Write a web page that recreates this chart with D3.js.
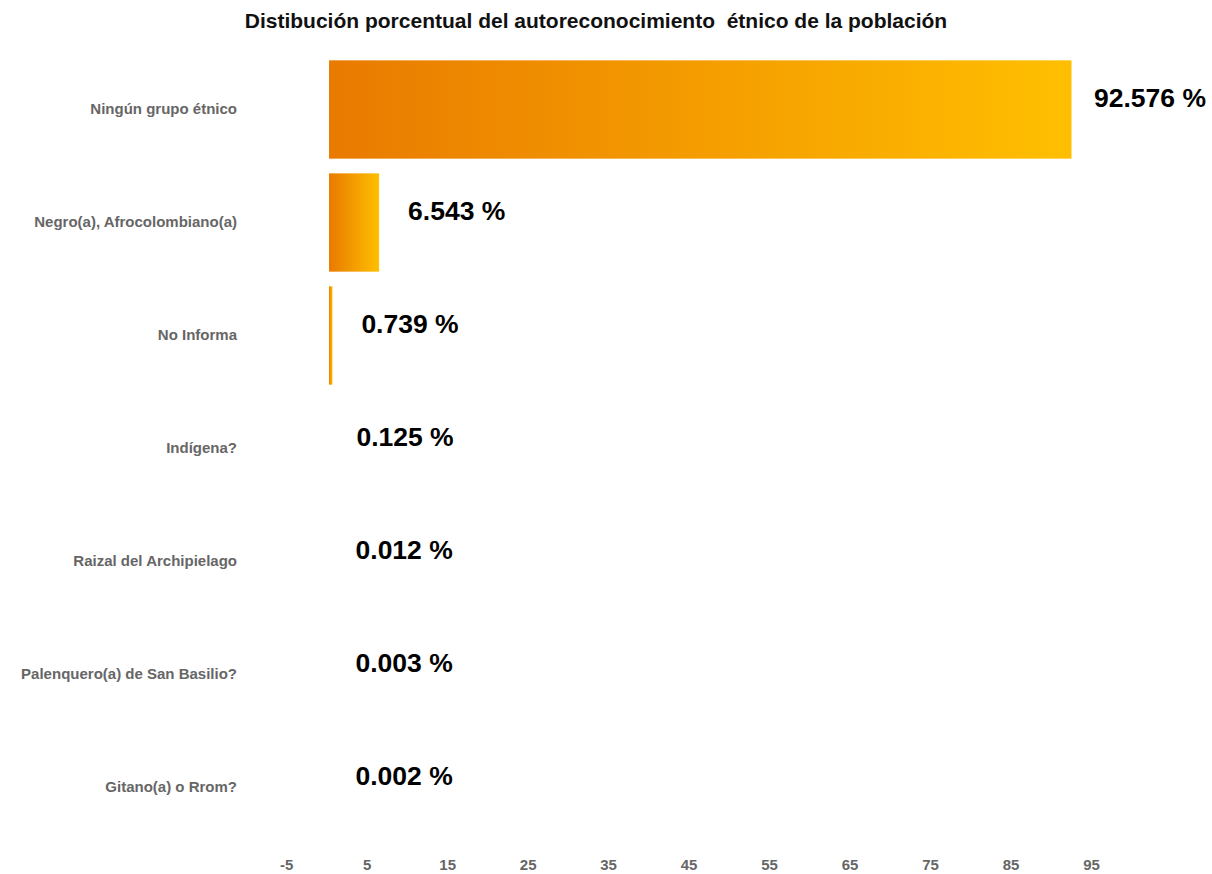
<!DOCTYPE html>
<html>
<head>
<meta charset="utf-8">
<script src="https://cdn.jsdelivr.net/npm/d3@7"></script>
<style>
  body { margin: 0; background: #fff; }
  svg text { font-family: "Liberation Sans", Arial, sans-serif; }
</style>
</head>
<body>
<svg id="chart" width="1212" height="874"></svg>
<script>
// data
const categories = ['Ningún grupo étnico', 'Negro(a), Afrocolombiano(a)', 'No Informa', 'Indígena?',
  'Raizal del Archipielago', 'Palenquero(a) de San Basilio?', 'Gitano(a) o Rrom?'];
const values = [92.576, 6.543, 0.739, 0.125, 0.012, 0.003, 0.002];
const tickValues = [-5, 5, 15, 25, 35, 45, 55, 65, 75, 85, 95];
const title = 'Distibución porcentual del autoreconocimiento  étnico de la población';

const svg = d3.select('#chart');
const barInset = 2.6; // bars start a little right of zero

// gradient used on every bar (per bar box)
const grad = svg.append('defs').append('linearGradient').attr('id', 'barfill')
  .attr('x1', '0%').attr('x2', '100%').attr('y1', '0%').attr('y2', '0%');
grad.append('stop').attr('offset', '0%').attr('stop-color', '#E97A00');
grad.append('stop').attr('offset', '100%').attr('stop-color', '#FFBF00');

const x = d3.scaleLinear().domain([-5, 95]).range([286.2, 1091]);
const y = d3.scaleBand().domain(categories).range([53, 844]).paddingInner(0.13).paddingOuter(0.065);

svg.append('text').attr('x', 596).attr('y', 28).attr('text-anchor', 'middle')
  .attr('xml:space', 'preserve').style('white-space', 'pre')
  .attr('font-size', 21).attr('font-weight', 'bold').attr('fill', '#111').text(title);

// bars
svg.selectAll('.bar').data(values).enter().append('rect').attr('class', 'bar')
  .attr('x', x(0) + barInset)
  .attr('y', (d, i) => y(categories[i]))
  .attr('width', d => Math.max(0, x(d) - x(0) - barInset))
  .attr('height', y.bandwidth())
  .attr('fill', 'url(#barfill)');

// value labels
svg.selectAll('.val').data(values).enter().append('text').attr('class', 'val')
  .attr('x', d => x(d) + 29)
  .attr('y', (d, i) => y(categories[i]) + y.bandwidth() / 2 - 2.5)
  .attr('font-size', 26.5).attr('font-weight', 'bold').attr('fill', '#000')
  .text(d => d + ' %')
  .each(function () {
    // keep the label inside the page
    const w = this.getComputedTextLength();
    const left = +this.getAttribute('x');
    if (left + w > 1206) this.setAttribute('x', 1206 - w);
  });

// category labels
svg.selectAll('.cat').data(categories).enter().append('text').attr('class', 'cat')
  .attr('x', 237)
  .attr('y', d => y(d) + y.bandwidth() / 2 + 4.5)
  .attr('text-anchor', 'end')
  .attr('font-size', 15).attr('font-weight', 'bold').attr('fill', '#666')
  .text(d => d);

// x axis, labels only
const xAxis = d3.axisBottom(x).tickValues(tickValues).tickSize(0).tickPadding(0).tickFormat(d => String(d));
const gx = svg.append('g').attr('transform', 'translate(0,859)').call(xAxis);
gx.select('.domain').remove();
gx.selectAll('text').attr('font-size', 15).attr('font-weight', 'bold').attr('fill', '#666')
  .style('font-family', '"Liberation Sans", Arial, sans-serif');
</script>
</body>
</html>
